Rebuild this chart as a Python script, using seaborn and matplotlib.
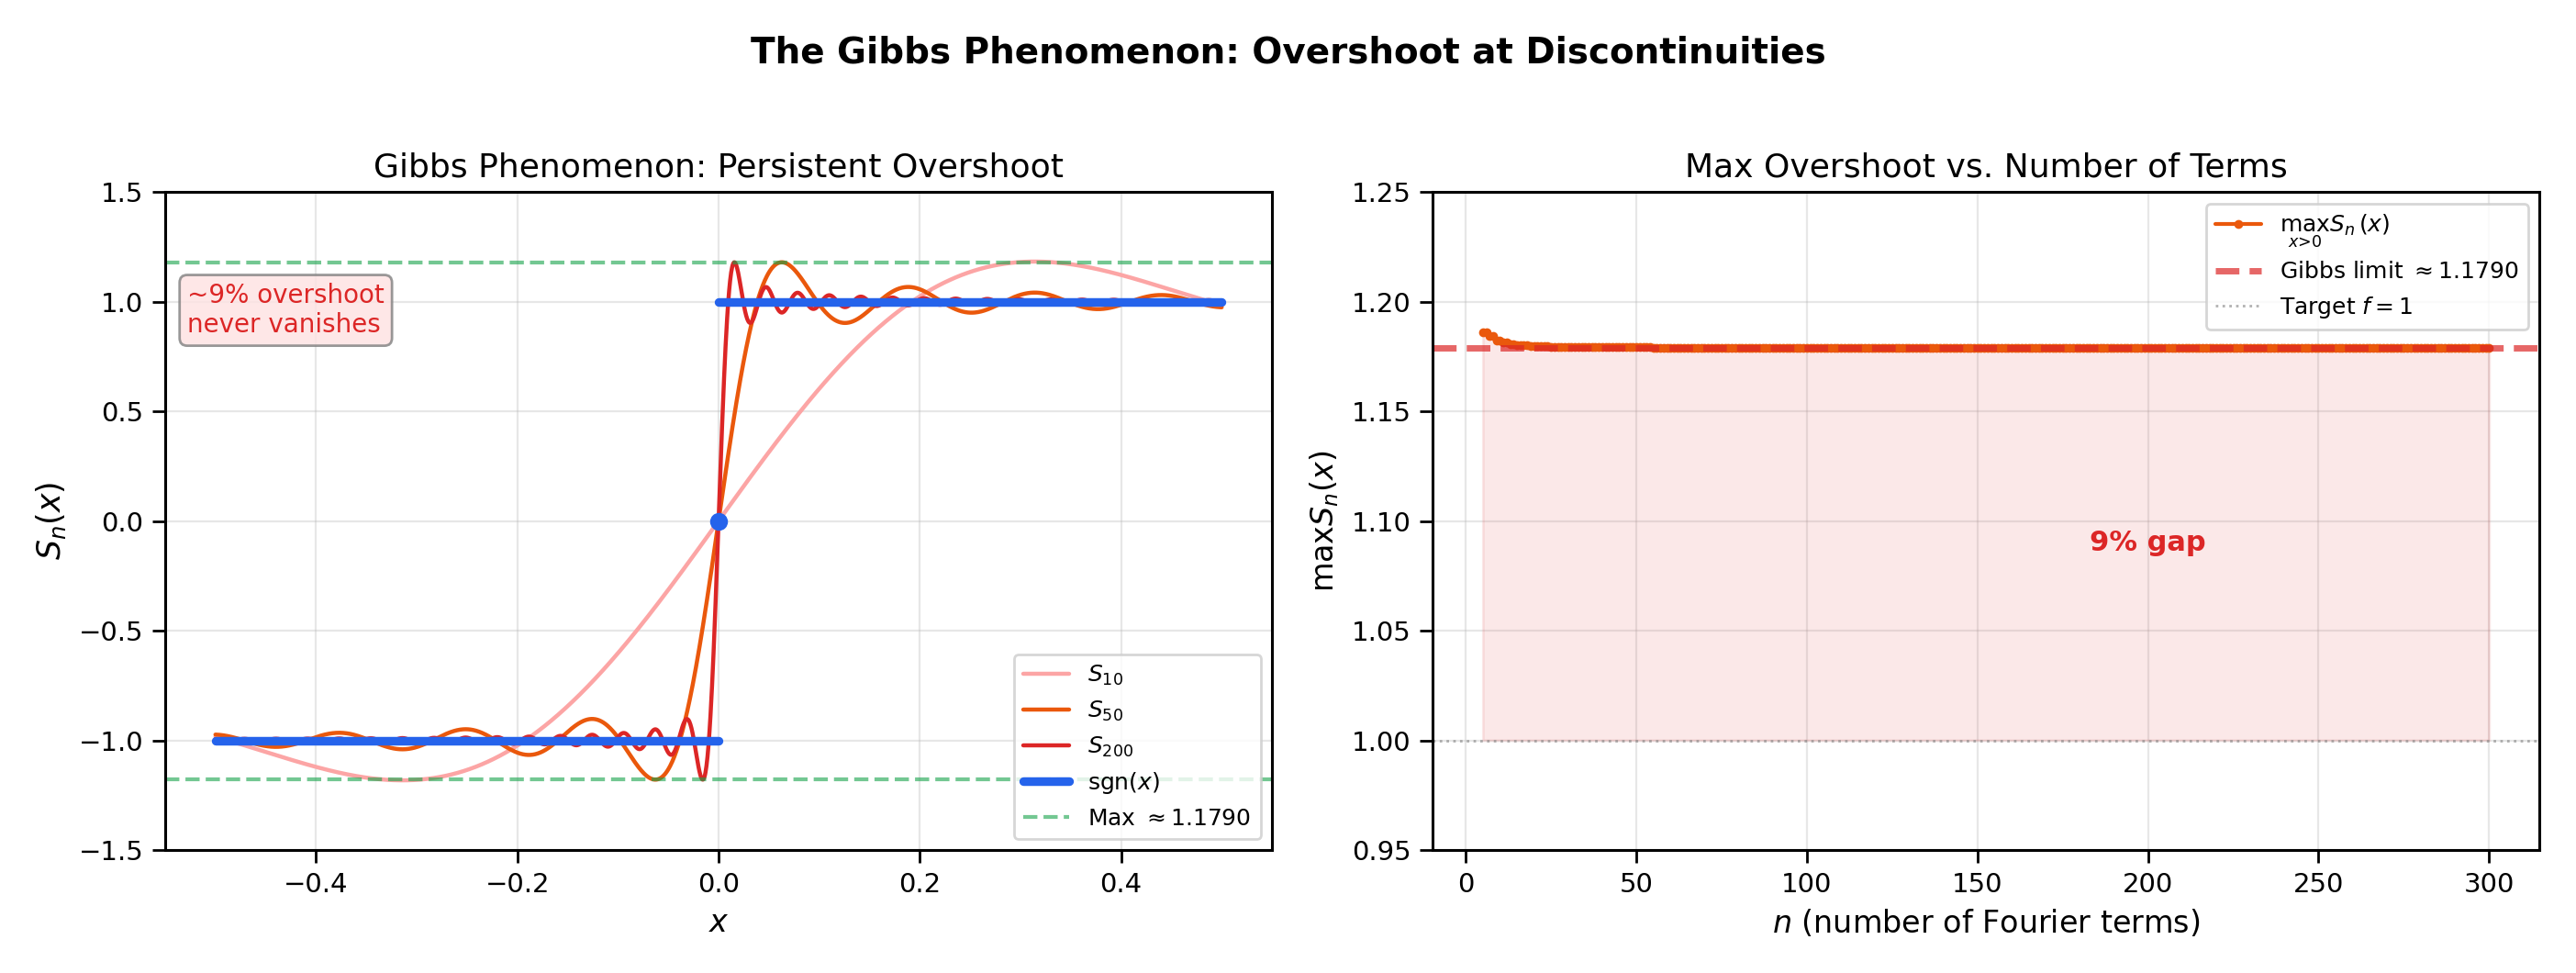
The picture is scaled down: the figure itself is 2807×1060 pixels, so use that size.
import numpy as np
import pandas as pd
import matplotlib
matplotlib.use("Agg")
import matplotlib.pyplot as plt
import seaborn as sns

# Chart values
terms_shown = [10, 50, 200]                 # partial sums drawn on the left
curve_labels = [r"$S_{10}$", r"$S_{50}$", r"$S_{200}$"]
curve_colors = ["#fca5a5", "#ea580c", "#dc2626"]
x_min, x_max = -0.5, 0.5
n_first, n_last = 5, 300                    # range of n on the right panel
gibbs_value = 1.1790
target_value = 1.0


def partial_sum(x, n):
    # Fourier series of sgn(x): (4/pi) * sum over odd k <= n of sin(kx)/k
    k = np.arange(1, n + 1, 2)
    return 4 / np.pi * np.sum(np.sin(np.outer(x, k)) / k, axis=1)


x = np.linspace(x_min, x_max, 2001)
x_pos = np.linspace(0, x_max, 4001)[1:]
n_range = np.arange(n_first, n_last + 1)
max_vals = [partial_sum(x_pos, n).max() for n in n_range]
df_max = pd.DataFrame({"n": n_range, "max": max_vals})

sns.set_style("ticks")
plt.rcParams["font.family"] = ["DejaVu Sans"]
plt.rcParams["mathtext.fontset"] = "dejavusans"
plt.rcParams["text.color"] = "black"
plt.rcParams["axes.labelcolor"] = "black"
plt.rcParams["xtick.color"] = "black"
plt.rcParams["ytick.color"] = "black"

fig = plt.figure(figsize=(2807 / 200, 1060 / 200), dpi=200)
gs = fig.add_gridspec(1, 2, left=0.0641, right=0.9858, top=0.8028, bottom=0.1264, wspace=0.145)
ax1 = fig.add_subplot(gs[0, 0])
ax2 = fig.add_subplot(gs[0, 1])

# Left panel: partial sums
for n, lab, col in zip(terms_shown, curve_labels, curve_colors):
    sns.lineplot(x=x, y=partial_sum(x, n), ax=ax1, color=col, lw=1.6, label=lab)

x_neg = x[x < 0]
x_right = x[x > 0]
sns.lineplot(x=np.append(x_neg, 0), y=np.sign(np.append(x_neg, -1e-9)), ax=ax1,
             color="#2563eb", lw=3.4, label=r"sgn$(x)$")
sns.lineplot(x=np.insert(x_right, 0, 0), y=np.sign(np.insert(x_right, 0, 1e-9)), ax=ax1,
             color="#2563eb", lw=3.4)
ax1.plot([0], [np.sign(0)], "o", color="#2563eb", ms=6, zorder=5)
ax1.axhline(gibbs_value, color="#16a34a", ls="--", lw=1.5, alpha=0.6, label=r"Max $\approx 1.1790$")
ax1.axhline(-gibbs_value, color="#16a34a", ls="--", lw=1.5, alpha=0.6)

ax1.text(0.02, 0.82, "~9% overshoot\nnever vanishes", transform=ax1.transAxes,
         fontsize=10, color="#dc2626", va="center", ha="left",
         bbox=dict(boxstyle="round,pad=0.3", facecolor="#fee2e2", edgecolor="gray", alpha=0.8))

ax1.set_ylim(-1.5, 1.5)
ax1.set_yticks(np.arange(-1.5, 1.51, 0.5))
ax1.set_xlabel(r"$x$", fontsize=12)
ax1.set_ylabel(r"$S_n(x)$", fontsize=12.5)
ax1.set_title("Gibbs Phenomenon: Persistent Overshoot", fontsize=13)
ax1.legend(loc="lower right", fontsize=9, framealpha=0.8)

# Right panel: maximum overshoot vs n
sns.lineplot(data=df_max, x="n", y="max", ax=ax2, color="#ea580c", lw=1.5,
             marker="o", markersize=3.5, markeredgewidth=0, label=r"$\max_{x>0} S_n(x)$")
ax2.axhline(gibbs_value, color="#dc2626", ls="--", lw=2.5, alpha=0.7, label=r"Gibbs limit $\approx 1.1790$")
ax2.axhline(target_value, color="gray", ls=":", lw=1, alpha=0.6, label=r"Target $f=1$")
ax2.fill_between(df_max["n"], target_value, df_max["max"], color="#dc2626", alpha=0.1)
ax2.text(200, 1.09, "9% gap", fontsize=11, fontweight="bold", color="#dc2626", ha="center", va="center")

ax2.set_ylim(0.95, 1.25)
ax2.set_yticks(np.arange(0.95, 1.251, 0.05))
ax2.set_xticks(np.arange(0, 301, 50))
ax2.set_xlabel(r"$n$ (number of Fourier terms)", fontsize=12)
ax2.set_ylabel(r"$\max S_n(x)$", fontsize=12)
ax2.set_title("Max Overshoot vs. Number of Terms", fontsize=13)
ax2.legend(loc="upper right", fontsize=9, framealpha=0.8)

for ax in (ax1, ax2):
    ax.grid(True, alpha=0.3, color="#b0b0b0", lw=0.8)
    ax.tick_params(labelsize=10.5, length=5, width=1, color="black", labelcolor="black")
    for s in ax.spines.values():
        s.set_visible(True)
        s.set_color("black")
        s.set_linewidth(1.1)

fig.suptitle("The Gibbs Phenomenon: Overshoot at Discontinuities", fontsize=14,
             fontweight="bold", y=0.946, va="center", color="black")

fig.savefig("out.png", dpi=200)
